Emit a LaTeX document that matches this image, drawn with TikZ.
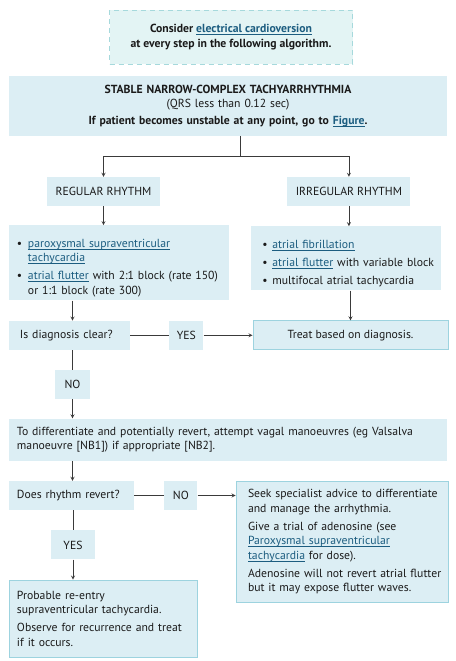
\documentclass[tikz,border=0pt]{standalone}
\usepackage{fontspec}
\setmainfont{PT Sans}
\usepackage{xcolor}
\usepackage{tikz}
\usetikzlibrary{arrows, positioning}

\definecolor{boxblue}{HTML}{DCEEF4}
\definecolor{notegreen}{HTML}{E3F4F4}
\definecolor{dashteal}{HTML}{A6D9DC}
\definecolor{frameblue}{HTML}{9DD3DF}
\definecolor{linkblue}{HTML}{1C5D80}
\definecolor{linegrey}{HTML}{3A3A3A}
\definecolor{inkblack}{HTML}{1A1A1A}

\newcommand{\chartfont}{\fontsize{11.7}{14.5}\selectfont}
\newcommand{\lnk}[1]{{\color{linkblue}\setbox0\hbox{#1}\rlap{\rule[-2.2pt]{\wd0}{0.6pt}}\box0}}
\newcommand{\itm}[2][11pt]{\par\hangindent=#1\hangafter=1\noindent\hbox to #1{\textbullet\hss}#2\par}

\begin{document}
\begin{tikzpicture}[font=\chartfont, text=inkblack,
  box/.style={rectangle, fill=boxblue, inner ysep=0pt, inner xsep=0pt,
    execute at begin node={\setlength{\parskip}{3.5pt}\setlength{\parindent}{0pt}\leftskip=#1\rightskip=0pt plus 1fil}},
  box/.default=8pt,
  framed/.style={box=#1, draw=frameblue, line width=0.8pt},
  framed/.default=8pt,
  tag/.style={rectangle, fill=boxblue, inner sep=0pt, minimum height=29pt, align=center},
  line/.style={draw=linegrey, line width=0.8pt},
  arrow/.style={line, ->, >=stealth}]
\useasboundingbox (0,0) rectangle (455pt,-661pt);

\node[rectangle, fill=notegreen, draw=dashteal, dash pattern=on 5pt off 4pt, line width=0.8pt,
  minimum width=243pt, minimum height=54pt, align=center, font=\chartfont\bfseries] (consider) at (231pt,-37pt)
  {Consider \lnk{electrical cardioversion}\\at every step in the following algorithm.};
\node[tag, text width=438pt, minimum height=60pt, below=11pt of consider, xshift=-3pt] (main)
  {\textbf{STABLE NARROW-COMPLEX TACHYARRHYTHMIA}\\(QRS less than 0.12 sec)\\[2pt]\textbf{If patient becomes unstable at any point, go to \lnk{Figure}.}};
\coordinate[below=21pt of main.south, xshift=12pt] (split);

\node[tag, minimum width=113pt, below=20pt of split, xshift=-136.5pt] (reg) {REGULAR RHYTHM};
\node[tag, minimum width=123pt, right=127pt of reg] (irr) {IRREGULAR RHYTHM};
\node[box, text width=220pt, minimum height=75pt, below=19pt of reg, xshift=15.5pt] (reglist)
  {\itm{\lnk{paroxysmal supraventricular}\newline\lnk{tachycardia}}
   \itm{\lnk{atrial flutter} with 2:1 block (rate 150)\newline or 1:1 block (rate 300)}};
\node[box=11pt, text width=190pt, minimum height=64pt, below=20pt of irr, xshift=-2.5pt] (irrlist)
  {\itm[10pt]{\lnk{atrial fibrillation}}
   \itm[10pt]{\lnk{atrial flutter} with variable block}
   \itm[10pt]{multifocal atrial tachycardia}};

\node[box=11pt, text width=121pt, minimum height=29pt, below=20pt of reglist.south west, anchor=north west] (diag) {Is diagnosis clear?};
\node[tag, minimum width=34pt, right=39pt of diag] (yes1) {YES};
\node[tag, draw=frameblue, line width=0.8pt, minimum width=195pt, right=49pt of yes1] (treat) {Treat based on diagnosis.};
\node[tag, minimum width=35pt, below=20pt of diag, xshift=3pt] (no1) {NO};

\node[box, text width=438pt, minimum height=42pt, below=19pt of no1, xshift=155.5pt] (vagal)
  {To differentiate and potentially revert, attempt vagal manoeuvres (eg Valsalva\newline manoeuvre [NB1]) if appropriate [NB2].};
\node[box, text width=125pt, minimum height=29pt, below=20pt of vagal.south west, anchor=north west] (revert) {Does rhythm revert?};
\node[tag, minimum width=33pt, right=30pt of revert] (no2) {NO};
\node[framed=12pt, text width=212pt, minimum height=121pt, right=38pt of no2.north east, anchor=north west] (seek)
  {Seek specialist advice to differentiate\newline and manage the arrhythmia.\par
   Give a trial of adenosine (see\newline\lnk{Paroxysmal supraventricular}\newline\lnk{tachycardia} for dose).\par
   Adenosine will not revert atrial flutter\newline but it may expose flutter waves.};
\node[tag, minimum width=44pt, below=20pt of revert, xshift=1.5pt] (yes2) {YES};
\node[framed, text width=188pt, minimum height=77pt, below=20pt of yes2, xshift=30pt] (prob)
  {Probable re-entry\newline supraventricular tachycardia.\par Observe for recurrence and treat\newline if it occurs.};

\draw[line] (main.south -| split) -- (split);
\draw[arrow] (split) -| (reg); \draw[arrow] (split) -| (irr);
\draw[arrow] (reg) -- (reg |- reglist.north); \draw[arrow] (irr) -- (irr |- irrlist.north);
\draw[arrow] (reglist.south -| no1) -- (diag.north -| no1);
\draw[arrow] (irrlist.south -| treat) -- (treat);
\draw[line] (diag) -- (yes1); \draw[arrow] (yes1) -- (treat);
\draw[line] (diag.south -| no1) -- (no1); \draw[arrow] (no1) -- (vagal.north -| no1);
\draw[arrow] (vagal.south -| no1) -- (revert.north -| no1);
\draw[line] (revert) -- (no2); \draw[arrow] (no2) -- (no2 -| seek.west);
\draw[line] (revert.south -| yes2) -- (yes2); \draw[arrow] (yes2) -- (prob.north -| yes2);
\end{tikzpicture}
\end{document}
